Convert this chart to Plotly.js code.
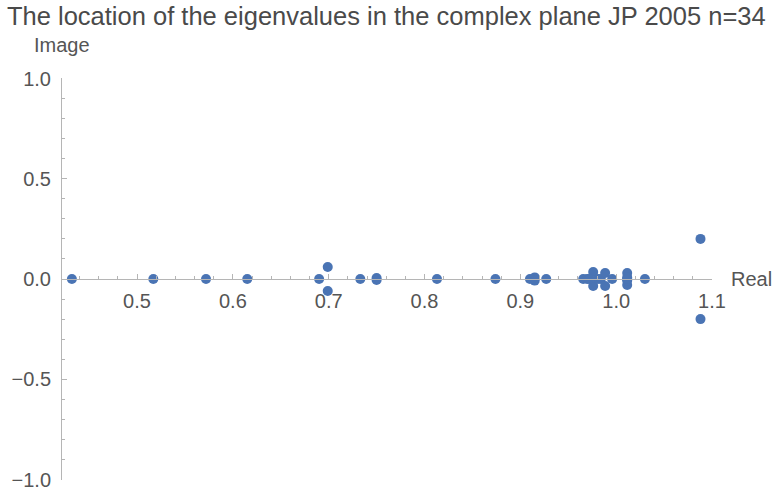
<!DOCTYPE html>
<html>
<head>
<meta charset="utf-8">
<script src="https://cdn.plot.ly/plotly-3.0.1.min.js"></script>
<style>html,body{margin:0;padding:0;background:#fff;}#chart{width:777px;height:489px;}</style>
</head>
<body>
<div id="chart"></div>
<script>
// Eigenvalues: real and imaginary parts
var realPart = [0.432, 0.517, 0.572, 0.615, 0.690, 0.699, 0.699, 0.733, 0.750, 0.750,
                0.813, 0.874, 0.910, 0.915, 0.915, 0.927, 0.9656, 0.9697, 0.976, 0.976,
                0.981, 0.984, 0.9885, 0.9885, 0.9958, 1.0115, 1.0115, 1.0115, 1.0115, 1.0115,
                1.030, 1.088, 1.088, 0.972];
var imagPart = [0, 0, 0, 0, 0, 0.06, -0.06, 0, 0.005, -0.005,
                0, 0, 0, 0.008, -0.008, 0, 0, 0, 0.035, -0.035,
                0, 0, 0.03, -0.035, 0, 0.03, -0.03, 0.008, -0.008, 0,
                0, 0.2, -0.2, 0];
var titleText = "The location of the eigenvalues in the complex plane JP 2005 n=34";
var xTitle = "Real";
var yTitle = "Image";
var yTickVals = [-1, -0.5, 0, 0.5, 1];

var grey = "#555555";
var axisCol = "#b5b5b5";
var font = "Liberation Sans, Arial, sans-serif";

var trace = {
  x: realPart, y: imagPart, type: "scatter", mode: "markers",
  marker: {color: "#4A74B4", size: 10, line: {width: 0}},
  cliponaxis: false, hoverinfo: "x+y"
};

var layout = {
  width: 777, height: 489,
  margin: {l: 62, r: 65, t: 78, b: 9},
  paper_bgcolor: "#fff", plot_bgcolor: "#fff",
  showlegend: false,
  font: {family: font, color: grey},
  title: {text: titleText, font: {family: font, size: 25.5, color: "#4a4a4a"},
          x: 0.009, xanchor: "left", xref: "container",
          y: 0.967, yanchor: "middle", yref: "container"},
  xaxis: {
    range: [0.4217, 1.1], anchor: "free", position: 0.5,
    showgrid: false, zeroline: false, showline: true, linecolor: axisCol, linewidth: 1,
    ticks: "inside", ticklen: 5, tickcolor: axisCol, tickwidth: 1,
    tick0: 0, dtick: 0.1, tickformat: ".1f", ticklabelstandoff: 4, ticklabeloverflow: "allow",
    tickfont: {size: 20, color: grey, family: font},
    minor: {dtick: 0.02, ticks: "inside", ticklen: 3, tickcolor: axisCol, showgrid: false}
  },
  yaxis: {
    range: [-1.0025, 1.0025],
    showgrid: false, zeroline: false, showline: true, linecolor: axisCol, linewidth: 1,
    ticks: "inside", ticklen: 5, tickcolor: axisCol, tickwidth: 1,
    tickmode: "array", tickvals: yTickVals, tickformat: ".1f", ticklabelstandoff: 6,
    ticklabeloverflow: "allow",
    tickfont: {size: 20, color: grey, family: font},
    minor: {tick0: 0, dtick: 0.1, ticks: "inside", ticklen: 3, tickcolor: axisCol, showgrid: false}
  },
  annotations: [
    {text: xTitle, xref: "x", yref: "y", x: 1.1, y: 0, xanchor: "left", yanchor: "middle",
     xshift: 17, showarrow: false, font: {size: 20, color: grey, family: font}},
    {text: yTitle, xref: "paper", yref: "paper", x: 0, y: 1, xanchor: "center", yanchor: "middle",
     yshift: 33, showarrow: false, font: {size: 20, color: grey, family: font}}
  ]
};

Plotly.newPlot("chart", [trace], layout, {displayModeBar: false, staticPlot: true});
</script>
</body>
</html>
